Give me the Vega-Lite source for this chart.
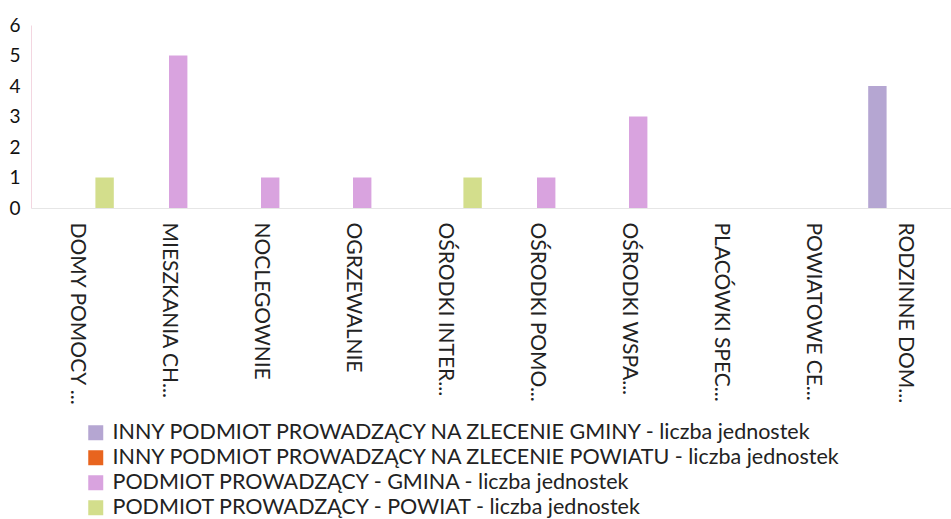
{
  "$schema": "https://vega.github.io/schema/vega-lite/v6.json",
  "autosize": "none",
  "width": 920,
  "height": 183,
  "padding": {"left": 31, "top": 25, "right": 0, "bottom": 311},
  "background": "white",
  "config": {"view": {"stroke": null}, "font": "Lato"},
  "data": {
    "values": [
      {"kategoria": "DOMY POMOCY ...", "seria": "INNY PODMIOT PROWADZĄCY NA ZLECENIE GMINY - liczba jednostek", "wartosc": 0},
      {"kategoria": "DOMY POMOCY ...", "seria": "INNY PODMIOT PROWADZĄCY NA ZLECENIE POWIATU - liczba jednostek", "wartosc": 0},
      {"kategoria": "DOMY POMOCY ...", "seria": "PODMIOT PROWADZĄCY - GMINA - liczba jednostek", "wartosc": 0},
      {"kategoria": "DOMY POMOCY ...", "seria": "PODMIOT PROWADZĄCY - POWIAT - liczba jednostek", "wartosc": 1},
      {"kategoria": "MIESZKANIA CH...", "seria": "INNY PODMIOT PROWADZĄCY NA ZLECENIE GMINY - liczba jednostek", "wartosc": 0},
      {"kategoria": "MIESZKANIA CH...", "seria": "INNY PODMIOT PROWADZĄCY NA ZLECENIE POWIATU - liczba jednostek", "wartosc": 0},
      {"kategoria": "MIESZKANIA CH...", "seria": "PODMIOT PROWADZĄCY - GMINA - liczba jednostek", "wartosc": 5},
      {"kategoria": "MIESZKANIA CH...", "seria": "PODMIOT PROWADZĄCY - POWIAT - liczba jednostek", "wartosc": 0},
      {"kategoria": "NOCLEGOWNIE", "seria": "INNY PODMIOT PROWADZĄCY NA ZLECENIE GMINY - liczba jednostek", "wartosc": 0},
      {"kategoria": "NOCLEGOWNIE", "seria": "INNY PODMIOT PROWADZĄCY NA ZLECENIE POWIATU - liczba jednostek", "wartosc": 0},
      {"kategoria": "NOCLEGOWNIE", "seria": "PODMIOT PROWADZĄCY - GMINA - liczba jednostek", "wartosc": 1},
      {"kategoria": "NOCLEGOWNIE", "seria": "PODMIOT PROWADZĄCY - POWIAT - liczba jednostek", "wartosc": 0},
      {"kategoria": "OGRZEWALNIE", "seria": "INNY PODMIOT PROWADZĄCY NA ZLECENIE GMINY - liczba jednostek", "wartosc": 0},
      {"kategoria": "OGRZEWALNIE", "seria": "INNY PODMIOT PROWADZĄCY NA ZLECENIE POWIATU - liczba jednostek", "wartosc": 0},
      {"kategoria": "OGRZEWALNIE", "seria": "PODMIOT PROWADZĄCY - GMINA - liczba jednostek", "wartosc": 1},
      {"kategoria": "OGRZEWALNIE", "seria": "PODMIOT PROWADZĄCY - POWIAT - liczba jednostek", "wartosc": 0},
      {"kategoria": "OŚRODKI INTER...", "seria": "INNY PODMIOT PROWADZĄCY NA ZLECENIE GMINY - liczba jednostek", "wartosc": 0},
      {"kategoria": "OŚRODKI INTER...", "seria": "INNY PODMIOT PROWADZĄCY NA ZLECENIE POWIATU - liczba jednostek", "wartosc": 0},
      {"kategoria": "OŚRODKI INTER...", "seria": "PODMIOT PROWADZĄCY - GMINA - liczba jednostek", "wartosc": 0},
      {"kategoria": "OŚRODKI INTER...", "seria": "PODMIOT PROWADZĄCY - POWIAT - liczba jednostek", "wartosc": 1},
      {"kategoria": "OŚRODKI POMO...", "seria": "INNY PODMIOT PROWADZĄCY NA ZLECENIE GMINY - liczba jednostek", "wartosc": 0},
      {"kategoria": "OŚRODKI POMO...", "seria": "INNY PODMIOT PROWADZĄCY NA ZLECENIE POWIATU - liczba jednostek", "wartosc": 0},
      {"kategoria": "OŚRODKI POMO...", "seria": "PODMIOT PROWADZĄCY - GMINA - liczba jednostek", "wartosc": 1},
      {"kategoria": "OŚRODKI POMO...", "seria": "PODMIOT PROWADZĄCY - POWIAT - liczba jednostek", "wartosc": 0},
      {"kategoria": "OŚRODKI WSPA...", "seria": "INNY PODMIOT PROWADZĄCY NA ZLECENIE GMINY - liczba jednostek", "wartosc": 0},
      {"kategoria": "OŚRODKI WSPA...", "seria": "INNY PODMIOT PROWADZĄCY NA ZLECENIE POWIATU - liczba jednostek", "wartosc": 0},
      {"kategoria": "OŚRODKI WSPA...", "seria": "PODMIOT PROWADZĄCY - GMINA - liczba jednostek", "wartosc": 3},
      {"kategoria": "OŚRODKI WSPA...", "seria": "PODMIOT PROWADZĄCY - POWIAT - liczba jednostek", "wartosc": 0},
      {"kategoria": "PLACÓWKI SPEC...", "seria": "INNY PODMIOT PROWADZĄCY NA ZLECENIE GMINY - liczba jednostek", "wartosc": 0},
      {"kategoria": "PLACÓWKI SPEC...", "seria": "INNY PODMIOT PROWADZĄCY NA ZLECENIE POWIATU - liczba jednostek", "wartosc": 0},
      {"kategoria": "PLACÓWKI SPEC...", "seria": "PODMIOT PROWADZĄCY - GMINA - liczba jednostek", "wartosc": 0},
      {"kategoria": "PLACÓWKI SPEC...", "seria": "PODMIOT PROWADZĄCY - POWIAT - liczba jednostek", "wartosc": 0},
      {"kategoria": "POWIATOWE CE...", "seria": "INNY PODMIOT PROWADZĄCY NA ZLECENIE GMINY - liczba jednostek", "wartosc": 0},
      {"kategoria": "POWIATOWE CE...", "seria": "INNY PODMIOT PROWADZĄCY NA ZLECENIE POWIATU - liczba jednostek", "wartosc": 0},
      {"kategoria": "POWIATOWE CE...", "seria": "PODMIOT PROWADZĄCY - GMINA - liczba jednostek", "wartosc": 0},
      {"kategoria": "POWIATOWE CE...", "seria": "PODMIOT PROWADZĄCY - POWIAT - liczba jednostek", "wartosc": 0},
      {"kategoria": "RODZINNE DOM...", "seria": "INNY PODMIOT PROWADZĄCY NA ZLECENIE GMINY - liczba jednostek", "wartosc": 4},
      {"kategoria": "RODZINNE DOM...", "seria": "INNY PODMIOT PROWADZĄCY NA ZLECENIE POWIATU - liczba jednostek", "wartosc": 0},
      {"kategoria": "RODZINNE DOM...", "seria": "PODMIOT PROWADZĄCY - GMINA - liczba jednostek", "wartosc": 0},
      {"kategoria": "RODZINNE DOM...", "seria": "PODMIOT PROWADZĄCY - POWIAT - liczba jednostek", "wartosc": 0}
    ]
  },
  "mark": {"type": "bar"},
  "encoding": {
    "x": {
      "field": "kategoria",
      "type": "nominal",
      "sort": null,
      "scale": {"paddingInner": 0.2, "paddingOuter": 0.1},
      "axis": {
        "title": null,
        "labelAngle": 90,
        "labelAlign": "left",
        "labelBaseline": "middle",
        "labelFontSize": 21,
        "labelColor": "#222222",
        "labelPadding": 14,
        "ticks": false,
        "domainColor": "#e6e6e6",
        "labelLimit": 300
      }
    },
    "xOffset": {"field": "seria", "type": "nominal"},
    "y": {
      "field": "wartosc",
      "type": "quantitative",
      "scale": {"domain": [0, 6]},
      "axis": {
        "title": null,
        "grid": false,
        "ticks": false,
        "values": [0, 1, 2, 3, 4, 5, 6],
        "labelFontSize": 19,
        "labelColor": "#111111",
        "labelPadding": 11,
        "domainColor": "#f3d6e0"
      }
    },
    "color": {
      "field": "seria",
      "type": "nominal",
      "scale": {
        "domain": [
          "INNY PODMIOT PROWADZĄCY NA ZLECENIE GMINY - liczba jednostek",
          "INNY PODMIOT PROWADZĄCY NA ZLECENIE POWIATU - liczba jednostek",
          "PODMIOT PROWADZĄCY - GMINA - liczba jednostek",
          "PODMIOT PROWADZĄCY - POWIAT - liczba jednostek"
        ],
        "range": ["#b5a6d2", "#e8641e", "#d9a3df", "#d3de8c"]
      },
      "legend": {
        "title": null,
        "orient": "none",
        "legendX": 54,
        "legendY": 397,
        "symbolType": "square",
        "symbolSize": 225,
        "symbolStrokeWidth": 0,
        "labelFontSize": 21.5,
        "labelColor": "#222222",
        "labelLimit": 900,
        "rowPadding": 2,
        "labelOffset": 6
      }
    }
  }
}
